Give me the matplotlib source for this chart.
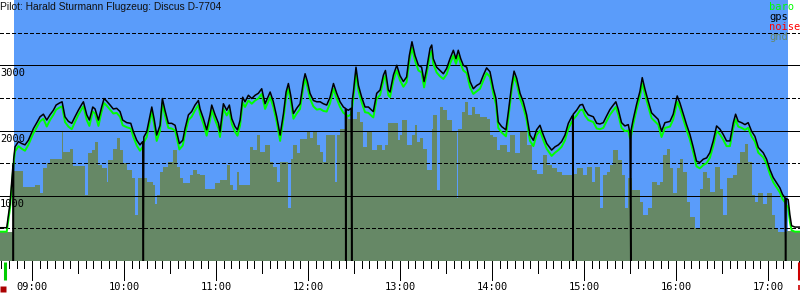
import matplotlib
matplotlib.use("Agg")
import matplotlib.pyplot as plt

# --- Barogramm: Zeit in Minuten seit Mitternacht, Hoehe in m ---
TITLE = "Pilot: Harald Sturmann Flugzeug: Discus D-7704"

gps_t = [
    519.1, 523.5, 525.7, 527.6, 527.8, 528.0, 528.9, 531.1, 533.3, 535.4,
    537.6, 540.9, 543.1, 545.2, 547.4, 549.6, 551.7, 553.9, 555.7, 557.8,
    559.6, 561.5, 563.7, 565.9, 568.0, 570.2, 572.4, 573.5, 575.7, 577.4,
    579.6, 581.1, 583.3, 585.4, 587.0, 588.7, 590.9, 593.0, 595.2, 597.4,
    599.1, 601.8, 604.4, 606.1, 608.3, 610.4, 612.2, 612.6, 612.9, 614.8,
    616.5, 618.1, 619.6, 621.3, 623.5, 625.0, 626.7, 628.9, 631.1, 633.3,
    634.3, 636.1, 638.3, 639.8, 642.0, 644.1, 646.3, 648.5, 649.6, 651.8,
    653.9, 656.1, 657.2, 659.4, 661.6, 662.6, 664.8, 667.0, 668.7, 670.3,
    672.4, 674.0, 675.7, 677.4, 678.9, 681.1, 683.3, 685.5, 687.6, 689.8,
    692.0, 695.3, 697.4, 699.6, 701.8, 704.0, 705.7, 707.2, 708.7, 710.5,
    712.6, 714.8, 717.0, 718.1, 719.6, 721.3, 723.5, 725.7, 727.9, 730.0,
    732.2, 734.4, 736.6, 738.7, 740.9, 743.1, 744.4, 744.6, 744.8, 746.3,
    748.1, 748.5, 748.8, 749.6, 751.3, 752.9, 755.0, 757.2, 759.4, 761.6,
    762.6, 764.8, 767.0, 769.2, 770.5, 772.4, 773.5, 775.7, 777.9, 780.0,
    782.2, 784.3, 786.1, 787.8, 789.8, 792.0, 794.1, 795.7, 797.4, 799.6,
    800.7, 801.7, 803.9, 806.1, 808.3, 810.4, 812.6, 814.8, 816.5, 818.0,
    819.6, 821.3, 823.5, 825.7, 827.8, 830.0, 832.2, 834.4, 836.5, 838.7,
    840.9, 842.6, 844.1, 846.3, 849.1, 850.7, 852.8, 854.4, 856.1, 858.3,
    860.4, 862.6, 864.8, 867.0, 869.1, 871.3, 873.5, 875.7, 878.9, 881.1,
    883.3, 885.4, 887.6, 889.8, 892.0, 892.6, 892.8, 893.0, 895.2, 897.4,
    899.1, 900.7, 902.8, 906.1, 908.3, 910.4, 912.6, 914.7, 916.9, 919.1,
    920.8, 922.4, 924.5, 926.7, 928.9, 930.0, 930.5, 930.7, 932.1, 934.3,
    936.5, 938.0, 939.8, 941.9, 944.1, 946.3, 948.4, 950.6, 952.8, 956.1,
    958.2, 960.8, 962.6, 964.8, 966.9, 969.1, 971.3, 973.4, 975.6, 977.8,
    980.0, 982.1, 984.3, 986.5, 988.7, 990.8, 993.0, 995.2, 997.4, 998.9,
    1000.6, 1002.8, 1005.0, 1007.1, 1009.3, 1011.5, 1013.7, 1016.9, 1019.1, 1021.3,
    1023.4, 1025.6, 1027.8, 1029.5, 1031.1, 1031.5, 1031.9, 1033.2, 1034.3, 1035.4,
    1037.6, 1040.8,
]
gps_alt = [
    510, 510, 900, 1480, 0, 1560, 1750, 1830, 1800, 1780,
    1850, 2030, 2120, 2210, 2250, 2160, 2240, 2310, 2390, 2420,
    2440, 2210, 2140, 2110, 2210, 2310, 2400, 2440, 2240, 2160,
    2360, 2330, 2160, 2360, 2490, 2450, 2390, 2330, 2340, 2290,
    2160, 2120, 2110, 1980, 1850, 1780, 1830, 0, 1900, 1980,
    2180, 2360, 2180, 1930, 2080, 2490, 2310, 2110, 2110, 2080,
    1980, 1800, 1850, 2030, 2240, 2290, 2390, 2460, 2330, 2180,
    2010, 2240, 2390, 2240, 2110, 1980, 2410, 2310, 2390, 2180,
    2060, 2010, 2160, 2510, 2440, 2540, 2490, 2540, 2570, 2640,
    2410, 2590, 2440, 2210, 1930, 2260, 2590, 2720, 2540, 2260,
    2340, 2410, 2750, 2870, 2750, 2570, 2460, 2440, 2440, 2410,
    2390, 2510, 2720, 2570, 2440, 2360, 2340, 0, 2330, 2310,
    2340, 0, 2450, 2590, 2970, 2690, 2510, 2360, 2360, 2310,
    2290, 2570, 2620, 2850, 2920, 2620, 2590, 2850, 3000, 2840,
    2750, 2820, 3150, 3360, 3150, 3000, 2970, 2750, 2950, 3260,
    3310, 3100, 2970, 2920, 2870, 2950, 3100, 3230, 3100, 3230,
    3100, 3000, 2970, 2750, 2640, 2690, 2720, 2850, 2960, 2900,
    2640, 2490, 2130, 2060, 2010, 2290, 2690, 2910, 2800, 2570,
    2440, 2240, 1930, 1850, 2010, 2080, 1930, 1800, 1700, 1750,
    1780, 1830, 1930, 2110, 2210, 2230, 0, 2250, 2310, 2390,
    2400, 2310, 2240, 2210, 2110, 2100, 2120, 2220, 2320, 2390,
    2440, 2320, 2120, 2070, 2090, 1960, 0, 2000, 2170, 2400,
    2600, 2810, 2630, 2450, 2270, 2220, 2170, 1990, 2120, 2140,
    2250, 2530, 2420, 2250, 2090, 1940, 1740, 1530, 1510, 1560,
    1580, 1660, 1840, 2070, 2020, 1940, 1840, 1840, 2120, 2250,
    2140, 2120, 2090, 2120, 1990, 1910, 1740, 1660, 1560, 1400,
    1280, 1200, 1120, 1020, 970, 0, 960, 940, 710, 540,
    520, 520,
]
baro_alt = [
    450, 450, 820, 1400, 1450, 1500, 1680, 1760, 1720, 1690,
    1780, 1960, 2050, 2140, 2180, 2060, 2160, 2240, 2320, 2350,
    2370, 2130, 2060, 2020, 2130, 2240, 2330, 2370, 2160, 2070,
    2290, 2260, 2070, 2290, 2420, 2380, 2320, 2260, 2270, 2210,
    2080, 2050, 2030, 1900, 1770, 1690, 1750, 1790, 1820, 1900,
    2100, 2290, 2100, 1840, 2000, 2420, 2230, 2040, 2030, 2000,
    1900, 1710, 1770, 1950, 2160, 2210, 2310, 2390, 2250, 2100,
    1920, 2160, 2310, 2160, 2030, 1900, 2330, 2230, 2310, 2100,
    1980, 1920, 2080, 2430, 2360, 2460, 2410, 2460, 2490, 2560,
    2330, 2510, 2360, 2130, 1840, 2180, 2510, 2640, 2460, 2180,
    2260, 2330, 2670, 2790, 2670, 2490, 2370, 2320, 2330, 2300,
    2290, 2420, 2640, 2490, 2360, 2270, 2250, 2240, 2240, 2220,
    2250, 2300, 2360, 2500, 2880, 2610, 2430, 2280, 2270, 2220,
    2200, 2490, 2540, 2770, 2840, 2540, 2510, 2770, 2920, 2770,
    2670, 2740, 3070, 3270, 3070, 2920, 2890, 2660, 2870, 3170,
    3220, 3020, 2890, 2830, 2790, 2860, 3020, 3150, 3020, 3150,
    3020, 2920, 2880, 2660, 2560, 2600, 2640, 2770, 2880, 2820,
    2560, 2400, 2040, 1970, 1910, 2200, 2610, 2830, 2720, 2490,
    2360, 2160, 1840, 1760, 1930, 2000, 1850, 1720, 1610, 1660,
    1700, 1750, 1850, 2030, 2130, 2150, 2160, 2170, 2230, 2310,
    2320, 2230, 2160, 2130, 2030, 2020, 2040, 2140, 2240, 2310,
    2360, 2240, 2040, 1990, 2000, 1880, 1900, 1920, 2090, 2320,
    2520, 2720, 2550, 2370, 2190, 2140, 2090, 1900, 2040, 2060,
    2170, 2440, 2340, 2170, 2010, 1860, 1660, 1450, 1420, 1470,
    1500, 1580, 1760, 1990, 1940, 1860, 1760, 1760, 2040, 2170,
    2060, 2040, 2010, 2040, 1910, 1830, 1660, 1590, 1490, 1330,
    1210, 1130, 1050, 950, 900, 880, 860, 820, 600, 470,
    450, 450,
]

# Gelaendehoehe unter dem Flugweg (Stufen)
gnd_t = [
    519.1, 528.2, 534.3, 541.9, 545.2, 546.9, 549.5, 551.7, 559.3, 560.4,
    564.8, 566.9, 574.5, 576.7, 578.9, 581.1, 583.2, 585.4, 588.7, 589.8,
    593.0, 595.2, 597.4, 599.5, 601.7, 605.0, 607.1, 609.3, 614.8, 619.1,
    620.2, 621.3, 623.4, 625.6, 628.9, 632.1, 634.3, 636.5, 638.7, 643.0,
    645.2, 647.4, 649.6, 652.9, 659.4, 662.6, 667.0, 669.2, 671.3, 673.5,
    675.3, 682.2, 684.4, 686.6, 688.7, 692.0, 695.3, 697.4, 699.6, 701.8,
    707.2, 708.7, 710.5, 712.6, 714.8, 719.2, 721.3, 723.5, 725.7, 727.9,
    730.0, 731.8, 737.6, 738.7, 740.9, 744.2, 746.3, 751.8, 753.9, 756.1,
    758.3, 761.6, 764.8, 768.1, 770.3, 772.4, 779.0, 780.0, 781.1, 784.3,
    787.6, 789.8, 790.9, 793.0, 795.2, 797.4, 800.7, 801.7, 803.9, 806.1,
    808.3, 810.4, 813.7, 817.0, 818.0, 820.2, 822.4, 824.6, 826.7, 828.9,
    832.2, 836.5, 838.7, 840.9, 843.0, 845.2, 849.6, 851.7, 855.0, 858.3,
    862.6, 865.9, 869.1, 873.5, 875.7, 878.9, 882.2, 885.4, 893.0, 895.2,
    899.6, 901.7, 905.0, 907.2, 910.4, 912.6, 914.7, 916.9, 919.1, 922.4,
    924.5, 926.7, 928.9, 931.1, 936.5, 938.7, 941.9, 944.1, 947.4, 949.5,
    951.7, 953.9, 956.1, 958.2, 960.4, 962.6, 964.8, 966.9, 969.1, 972.4,
    975.6, 977.8, 980.0, 982.1, 985.4, 988.7, 990.8, 993.0, 997.4, 999.5,
    1001.7, 1005.0, 1007.1, 1009.3, 1011.5, 1013.7, 1016.9, 1019.1, 1022.4, 1024.5,
    1026.7, 1032.1, 1040.9,
]
gnd_alt = [
    450, 1380, 1140, 1160, 1040, 1420, 1500, 1570, 1980, 1670,
    1720, 1450, 1010, 1650, 1700, 1830, 1470, 1420, 1210, 1550,
    1720, 1880, 1700, 1500, 1390, 1270, 700, 1270, 1210, 1160,
    880, 1010, 1370, 1440, 1520, 1700, 1440, 1270, 1190, 1320,
    1390, 1340, 1320, 1110, 1190, 1240, 1470, 1160, 1090, 1370,
    1160, 1750, 1700, 1930, 1670, 1780, 1520, 1440, 1210, 1520,
    810, 1570, 1780, 1650, 1870, 1980, 1880, 2000, 1780, 1670,
    1520, 1930, 1210, 1930, 2030, 2240, 2180, 2290, 2130, 1750,
    1990, 1700, 1780, 1700, 1780, 2120, 1850, 1930, 2160, 1780,
    1930, 2080, 1830, 1880, 1720, 1390, 2030, 2240, 1090, 2360,
    2310, 2160, 1980, 960, 2030, 2290, 2440, 2240, 2360, 2260,
    2210, 2180, 1930, 1900, 1700, 1780, 1670, 1930, 1650, 1980,
    1780, 1390, 1330, 1620, 1470, 1420, 1370, 1320, 1340, 1420,
    1320, 1440, 1210, 1440, 810, 1320, 1370, 1470, 1700, 1550,
    1320, 810, 1270, 1090, 910, 700, 810, 1210, 1160, 1210,
    1620, 1720, 1420, 1040, 1420, 1570, 1370, 910, 680, 500,
    1110, 1370, 1270, 1060, 1440, 1110, 700, 1270, 1320, 1500,
    1670, 1800, 1520, 1010, 910, 1040, 880, 1040, 700, 500,
    450, 460, 460,
]

flight_start, flight_end = 528.3, 1033.1      # blau hinterlegter Flugabschnitt
mark_start, mark_end = 522.4, 1040.2          # Markierungen unter der Zeitachse
hour_ticks = [540, 600, 660, 720, 780, 840, 900, 960, 1020]
hour_labels = ["09:00", "10:00", "11:00", "12:00", "13:00", "14:00", "15:00", "16:00", "17:00"]
alt_lines = [1000, 2000, 3000]
alt_dashed = [500, 1500, 2500, 3500]
legend_items = [("baro", "#00ff00"), ("gps", "black"), ("noise", "red"), ("gnd", "#668866")]

BLUE = "#5a9cfa"
GND = "#668866"
MONO = "DejaVu Sans Mono"
PX = 0.72  # eine Pixelbreite in pt

fig = plt.figure(figsize=(8, 3), dpi=100)
ax = fig.add_axes([0, 0.13, 1, 0.87])
ax.set_xlim(519.1, 1040.9)
ax.set_ylim(0, 4000)
ax.axis("off")

ax.axvspan(flight_start, flight_end, color=BLUE, lw=0, zorder=0)
ax.fill_between(gnd_t, gnd_alt, 0, step="post", color=GND, lw=0, zorder=1)

for v in alt_lines:
    ax.axhline(v, color="black", lw=PX, antialiased=False, zorder=2)
    ax.annotate(str(v), xy=(0, v), xycoords=("axes fraction", "data"),
                xytext=(0, -3), textcoords="offset pixels",
                ha="left", va="top", fontsize=7.5, family=MONO, zorder=6)
for v in alt_dashed:
    ax.axhline(v, color="black", lw=PX, ls=(0, (3.3, 2.7)), antialiased=False, zorder=2)

ax.plot(gps_t, baro_alt, color="#00ff00", lw=1.4, zorder=3)
ax.plot(gps_t, gps_alt, color="black", lw=1.1, zorder=4)

# Zeitachse: 5-min, 30-min und Stundenstriche
xt = ax.get_xaxis_transform()
for m in range(520, 1041, 5):
    if m % 60 == 0:
        ln = 0.073
    elif m % 30 == 0:
        ln = 0.046
    else:
        ln = 0.027
    ax.plot([m, m], [0, -ln], color="black", lw=PX, transform=xt,
            clip_on=False, antialiased=False)
for m, lab in zip(hour_ticks, hour_labels):
    ax.text(m, -0.1, lab, transform=xt, ha="center", va="center",
            fontsize=7.5, family=MONO)

ax.plot([mark_start, mark_start], [-0.004, -0.073], color="#00cc00", lw=2.2,
        transform=xt, clip_on=False, solid_capstyle="butt")
ax.plot([520.9], [-0.108], marker="s", ms=4.8, color="#aa0000", mec="none",
        transform=xt, clip_on=False)
ax.plot([mark_end, mark_end], [-0.004, -0.073], color="#cc0000", lw=2.2,
        transform=xt, clip_on=False, solid_capstyle="butt")
ax.plot([mark_end, mark_end], [-0.092, -0.111], color="#cc0000", lw=1.2,
        transform=xt, clip_on=False, solid_capstyle="butt")

fig.text(0.0, 1 - 7.5 / 300, TITLE, ha="left", va="center", fontsize=7.4,
         family="Liberation Sans", color="#111111")
for i, (name, col) in enumerate(legend_items):
    fig.text(769 / 800, 1 - (7 + 10 * i) / 300, name, ha="left", va="center",
             fontsize=7.5, family=MONO, color=col)

fig.savefig("out.png", dpi=100)
